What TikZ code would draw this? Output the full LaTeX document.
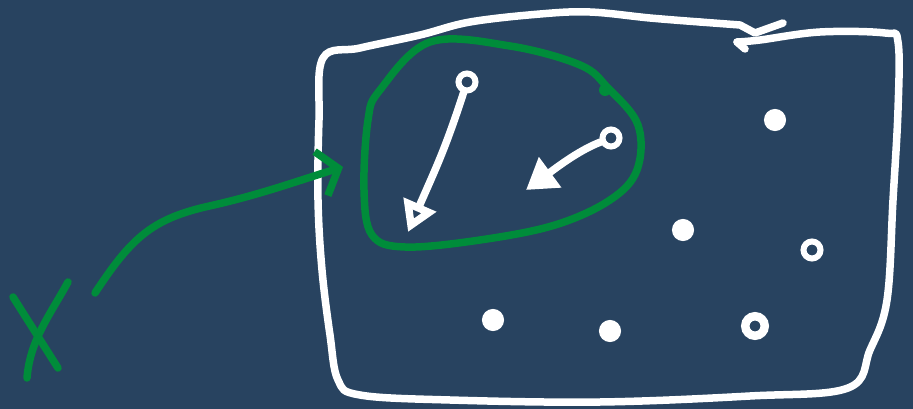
\documentclass[tikz,border=0pt]{standalone}
\usetikzlibrary{arrows.meta}
\definecolor{board}{HTML}{284360}
\definecolor{marker}{HTML}{008C3A}
\tikzset{
  chalk/.style={white, line width=7.5pt, line cap=round, line join=round},
  pen/.style={marker, line width=7.5pt, line cap=round, line join=round},
  dot/.style={circle, draw=white, line width=6pt, inner sep=0pt, minimum size=17pt},
  blob/.style={dot, fill=white},
}
\begin{document}
\begin{tikzpicture}[x=1pt,y=-1pt]
  \fill[board] (0,0) rectangle (913,409);
  \useasboundingbox (0,0) rectangle (913,409);

  % the set
  \draw[chalk] plot[smooth, tension=0.6] coordinates {(700,22) (650,18) (590,12) (540,14) (470,22) (420,35) (360,48) (323,58) (319,120) (318,200) (322,270) (330,335) (338,380) (360,395) (450,400) (600,402) (750,396) (848,388) (870,350) (887,300) (893,200) (898,110) (898,42) (885,33) (820,32) (760,40) (737,42)};
  \draw[chalk] (700,22) -- (740,25) -- (755,33) -- (783,23);
  \draw[chalk] (737,42) -- (745,49);

  % points
  \foreach \n/\x/\y in {a/467/82, b/611/138, e/812/250, h/755/326}
    \node[dot] (\n) at (\x,\y) {};
  \foreach \n/\x/\y in {c/775/120, d/683/230, f/493/320, g/610/331}
    \node[blob, minimum size=16pt] (\n) at (\x,\y) {};
  \node[dot, minimum size=22pt] at (h) {};

  \coordinate (ha) at (408,232);
  \coordinate (hb) at (526,190);
  \draw[chalk, -{Triangle[open, length=30pt, width=34pt]}] (a) .. controls (445,150) and (435,170) .. (ha);
  \draw[chalk, -{Triangle[length=30pt, width=36pt]}] (b) .. controls (580,150) and (560,165) .. (hb);

  % subset
  \draw[pen] plot[smooth cycle, tension=0.6] coordinates {(430,42) (510,46) (580,65) (608,88) (638,125) (637,170) (610,200) (555,225) (480,240) (405,247) (372,235) (364,190) (368,120) (380,90)};
  \fill[marker] (605,90) circle (6pt);

  % X
  \draw[pen] (13,297) -- (58,368);
  \draw[pen] (68,282) .. controls (50,315) and (30,340) .. (27,378);

  \coordinate (from) at (95,293);
  \coordinate (into) at (343,167);
  \draw[pen, -{Straight Barb[length=18pt, width=46pt]}] (from) .. controls (130,240) and (150,220) .. (205,207) .. controls (260,195) and (300,180) .. (into);
\end{tikzpicture}
\end{document}
